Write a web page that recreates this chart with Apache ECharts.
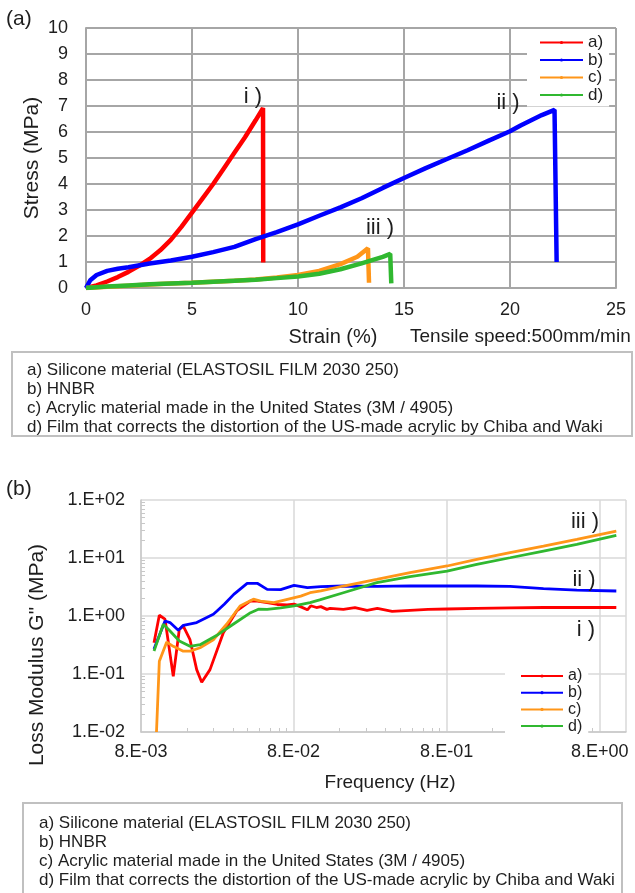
<!DOCTYPE html>
<html>
<head>
<meta charset="utf-8">
<script src="https://cdn.jsdelivr.net/npm/echarts@6/dist/echarts.min.js"></script>
<style>
html, body { margin: 0; padding: 0; background: #fff; }
#Chart { width: 635px; height: 893px; }
</style>
</head>
<body>
<div id="Chart"></div>
<script>
// (a) 引張試験  strain (%) -> stress (MPa)
var strainA = [0, 0.5, 1, 1.5, 2, 2.5, 3, 3.5, 4, 4.5, 5, 5.5, 6, 6.5, 7, 7.5, 8, 8.35, 8.36];
var stressA = [0, 0.1, 0.25, 0.42, 0.62, 0.85, 1.12, 1.45, 1.85, 2.35, 2.9, 3.45, 4.0, 4.6, 5.2, 5.8, 6.45, 6.92, 0.98];
var strainB = [0, 0.2, 0.5, 1, 1.5, 2, 3, 4, 5, 6, 7, 8, 9, 10, 11, 12, 13, 14, 15, 16, 17, 18, 19, 20, 20.5, 21, 21.5, 22.1, 22.2];
var stressB = [0, 0.3, 0.5, 0.66, 0.74, 0.8, 0.94, 1.06, 1.2, 1.38, 1.58, 1.88, 2.15, 2.45, 2.78, 3.1, 3.45, 3.85, 4.23, 4.6, 4.95, 5.3, 5.67, 6.03, 6.25, 6.45, 6.65, 6.85, 1.0];
var strainC = [0, 1, 2, 3, 4, 5, 6, 7, 8, 9, 10, 11, 12, 12.8, 13.3, 13.35];
var stressC = [0, 0.05, 0.09, 0.13, 0.17, 0.2, 0.24, 0.28, 0.33, 0.4, 0.5, 0.66, 0.92, 1.2, 1.53, 0.2];
var strainD = [0, 1, 2, 3, 4, 5, 6, 7, 8, 9, 10, 11, 12, 13, 14, 14.35, 14.4];
var stressD = [0, 0.06, 0.1, 0.14, 0.17, 0.2, 0.24, 0.28, 0.32, 0.38, 0.44, 0.55, 0.72, 0.95, 1.2, 1.31, 0.18];

// (b) 損失弾性率  frequency (Hz) -> G'' (MPa)
var freqA = [0.00973, 0.01054, 0.01148, 0.0130, 0.01424, 0.01512, 0.01672, 0.01849, 0.01994, 0.02259, 0.02761, 0.03375, 0.04157, 0.046, 0.0534, 0.0622, 0.072, 0.08, 0.088, 0.0978, 0.1029, 0.112, 0.1197, 0.131, 0.1375, 0.168, 0.2, 0.24, 0.28, 0.35, 0.458, 0.6, 0.8, 1.25, 2.06, 3.41, 5.63, 10.2];
var gA = [0.346, 1.03, 0.88, 0.091, 0.59, 0.67, 0.39, 0.119, 0.072, 0.119, 0.515, 1.22, 1.82, 1.8, 1.7, 1.58, 1.55, 1.6, 1.45, 1.28, 1.5, 1.4, 1.45, 1.3, 1.35, 1.3, 1.4, 1.25, 1.35, 1.2, 1.25, 1.3, 1.32, 1.35, 1.38, 1.4, 1.4, 1.4];
var freqB = [0.00973, 0.01148, 0.01238, 0.01402, 0.01512, 0.01849, 0.02375, 0.0251, 0.028, 0.0323, 0.0395, 0.046, 0.0534, 0.0654, 0.08, 0.0978, 0.1197, 0.168, 0.28, 0.458, 0.8, 1.25, 2.06, 3.41, 5.63, 10.2];
var gB = [0.27, 0.82, 0.77, 0.57, 0.69, 0.77, 1.07, 1.22, 1.6, 2.36, 3.66, 3.66, 2.88, 2.85, 3.38, 3.08, 3.2, 3.29, 3.25, 3.3, 3.29, 3.29, 3.25, 2.96, 2.8, 2.7];
var freqC = [0.0101, 0.01054, 0.01178, 0.0130, 0.01512, 0.01672, 0.01944, 0.02375, 0.029, 0.0355, 0.0434, 0.0483, 0.0591, 0.0723, 0.0885, 0.1018, 0.1197, 0.168, 0.2776, 0.458, 0.8, 1.25, 2.06, 3.41, 5.63, 10.2];
var gC = [0.01, 0.166, 0.355, 0.30, 0.247, 0.247, 0.283, 0.39, 0.72, 1.49, 1.95, 1.81, 1.7, 1.94, 2.2, 2.52, 2.7, 3.29, 4.29, 5.59, 7.28, 9.49, 12.4, 16.1, 21.0, 29.2];
var freqD = [0.00973, 0.01119, 0.01238, 0.01424, 0.01672, 0.01944, 0.0249, 0.032, 0.0416, 0.0468, 0.0534, 0.0654, 0.08, 0.1018, 0.1176, 0.168, 0.2776, 0.458, 0.8, 1.25, 2.06, 3.41, 5.63, 10.2];
var gD = [0.25, 0.72, 0.55, 0.37, 0.30, 0.32, 0.46, 0.72, 1.14, 1.31, 1.3, 1.38, 1.5, 1.7, 1.9, 2.52, 3.75, 4.77, 5.96, 7.78, 10.1, 13.2, 17.2, 24.6];

var names = ['a)', 'b)', 'c)', 'd)'];
var colors = ['#ff0000', '#0000ff', '#ff9619', '#30b830'];
var notes = [
    'a) Silicone material (ELASTOSIL FILM 2030 250)',
    'b) HNBR',
    'c) Acrylic material made in the United States (3M / 4905)',
    'd) Film that corrects the distortion of the US-made acrylic by Chiba and Waki'
];

var font = "'Liberation Sans', Arial, sans-serif";
var txt = '#1e1e1e';

function zip(xs, ys) {
    return xs.map(function (x, i) { return [x, ys[i]]; });
}
// 8 -> "8.E+00"
function sci(v) {
    var e = Math.floor(Math.log10(v) + 1e-9);
    var m = Math.round(v / Math.pow(10, e));
    var a = Math.abs(e);
    return m + '.E' + (e < 0 ? '-' : '+') + (a < 10 ? '0' : '') + a;
}
function label(x, y, text, size, extra) {
    var o = {
        type: 'text', x: x, y: y, z: 100,
        style: { text: text, font: size + 'px ' + font, fill: txt, textAlign: 'left', textVerticalAlign: 'middle' }
    };
    for (var k in extra) o.style[k] = extra[k];
    return o;
}

var tensile = [zip(strainA, stressA), zip(strainB, stressB), zip(strainC, stressC), zip(strainD, stressD)];
var loss = [zip(freqA, gA), zip(freqB, gB), zip(freqC, gC), zip(freqD, gD)];

var series = [];
names.forEach(function (n, i) {
    series.push({
        name: n, type: 'line', xAxisIndex: 0, yAxisIndex: 0,
        data: tensile[i], showSymbol: false, symbol: 'circle', symbolSize: 4,
        color: colors[i], lineStyle: { width: 4.5, color: colors[i] }
    });
});
names.forEach(function (n, i) {
    series.push({
        name: n, type: 'line', xAxisIndex: 1, yAxisIndex: 1,
        data: loss[i], showSymbol: false, symbol: 'circle', symbolSize: 4,
        color: colors[i], lineStyle: { width: 2.8, color: colors[i] }
    });
});

var graphic = [
    label(6, 19, '(a)', 21),
    label(6, 489, '(b)', 21),
    label(32, 158, 'Stress (MPa)', 21, { textAlign: 'center' }),
    label(333, 337, 'Strain (%)', 20, { textAlign: 'center' }),
    label(410, 337, 'Tensile speed:500mm/min', 19),
    label(37, 655, 'Loss Modulus G" (MPa)', 21, { textAlign: 'center' }),
    label(390, 783, 'Frequency (Hz)', 19, { textAlign: 'center' }),
    label(253, 97, 'i )', 22, { textAlign: 'center' }),
    label(508, 103, 'ii )', 22, { textAlign: 'center' }),
    label(380, 228, 'iii )', 22, { textAlign: 'center' }),
    label(585, 522, 'iii )', 22, { textAlign: 'center' }),
    label(584, 580, 'ii )', 22, { textAlign: 'center' }),
    label(586, 630, 'i )', 22, { textAlign: 'center' }),
    { type: 'rect', shape: { x: 12, y: 352, width: 620, height: 84 }, style: { fill: 'none', stroke: '#c0c0c0', lineWidth: 2 } },
    { type: 'rect', shape: { x: 23, y: 803, width: 599, height: 100 }, style: { fill: 'none', stroke: '#c0c0c0', lineWidth: 2 } }
];
graphic[2].rotation = Math.PI / 2;
graphic[5].rotation = Math.PI / 2;
notes.forEach(function (t, i) {
    graphic.push(label(27, 370 + i * 19, t, 17));
    graphic.push(label(39, 823 + i * 19, t, 17));
});

var gridTop = '#a6a6a6';
var gridBot = '#d9d9d9';

var myChart = echarts.init(document.getElementById('Chart'));
var option = {
    animation: false,
    backgroundColor: '#fff',
    textStyle: { fontFamily: font, color: txt },
    grid: [
        { left: 86, top: 28, width: 530, height: 260 },
        { left: 141, top: 500, width: 485, height: 232 }
    ],
    legend: [
        {
            data: names, orient: 'vertical', left: 527, top: 30,
            padding: [4, 6, 3, 12], itemWidth: 43, itemHeight: 4, itemGap: 0.5,
            backgroundColor: '#fff',
            textStyle: { fontSize: 17, color: txt, fontFamily: font }
        },
        {
            data: names, orient: 'vertical', left: 505, top: 665,
            padding: [3, 6, 0, 15], itemWidth: 42, itemHeight: 4, itemGap: 0.7,
            backgroundColor: '#fff',
            textStyle: { fontSize: 16, color: txt, fontFamily: font }
        }
    ],
    xAxis: [
        {
            type: 'value', gridIndex: 0, min: 0, max: 25, interval: 5,
            axisLine: { lineStyle: { color: gridTop, width: 2 } },
            axisTick: { show: false },
            splitLine: { lineStyle: { color: gridTop, width: 2 } },
            axisLabel: { fontSize: 18, color: txt, margin: 13 }
        },
        {
            type: 'log', logBase: 10, gridIndex: 1, min: 0.008, max: 11.8, interval: 1,
            axisLine: { lineStyle: { color: '#c8c8c8', width: 1.5 } },
            axisTick: { show: false, inside: true },
            minorTick: { show: true, splitNumber: 9, length: 4, lineStyle: { color: '#c8c8c8' } },
            splitLine: { lineStyle: { color: gridBot, width: 1.5 } },
            axisLabel: { fontSize: 18, color: txt, margin: 11, showMaxLabel: false, formatter: sci }
        }
    ],
    yAxis: [
        {
            type: 'value', gridIndex: 0, min: 0, max: 10, interval: 1,
            axisLine: { show: true, lineStyle: { color: gridTop, width: 2 } },
            axisTick: { show: false },
            splitLine: { lineStyle: { color: gridTop, width: 2 } },
            axisLabel: { fontSize: 18, color: txt, margin: 18 }
        },
        {
            type: 'log', logBase: 10, gridIndex: 1, min: 0.01, max: 100,
            axisLine: { show: true, lineStyle: { color: '#c8c8c8', width: 1.5 } },
            axisTick: { show: false, inside: true },
            minorTick: { show: true, splitNumber: 9, length: 4, lineStyle: { color: '#c8c8c8' } },
            splitLine: { lineStyle: { color: gridBot, width: 1.5 } },
            axisLabel: { fontSize: 18, color: txt, margin: 16, formatter: sci }
        }
    ],
    graphic: graphic,
    series: series
};
myChart.setOption(option);
window.addEventListener('resize', function () {
    myChart.resize();
});
</script>
</body>
</html>
